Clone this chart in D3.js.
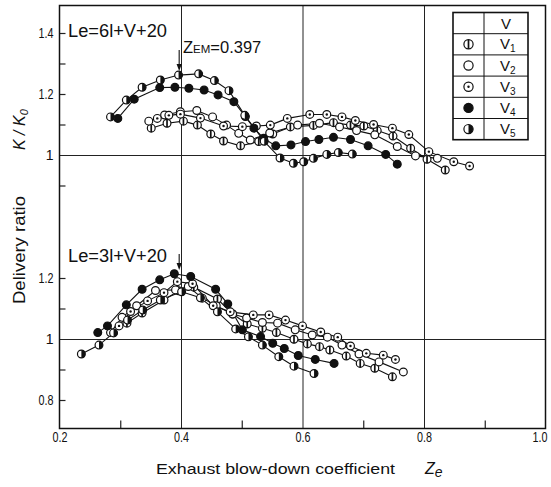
<!DOCTYPE html>
<html>
<head>
<meta charset="utf-8">
<script src="https://cdn.jsdelivr.net/npm/d3@7"></script>
<style>
  html, body { margin: 0; padding: 0; background: #fff; }
  svg { display: block; }
  text { font-family: "Liberation Sans", Arial, sans-serif; fill: #111; }
</style>
</head>
<body>
<svg id="chart" width="551" height="487"></svg>
<script>
// ---- data -------------------------------------------------------------
const seriesNames = ["V1", "V2", "V3", "V4", "V5"];

const xTickValues = [0.2, 0.4, 0.6, 0.8, 1.0];
const xTickLabels = ["0.2", "0.4", "0.6", "0.8", "1.0"];
const upperTickValues = [1.4, 1.2, 1.0];
const upperTickLabels = ["1.4", "1.2", "1"];
const lowerTickValues = [1.2, 1.0, 0.8];
const lowerTickLabels = ["1.2", "1", "0.8"];

const zemValue = 0.397;

// Le = 6l + V + 20   [Ze, K/K0]
const upperV1 = [[0.351,1.088],[0.377,1.104],[0.404,1.111],[0.427,1.098],[0.449,1.069],[0.470,1.046],[0.498,1.030],[0.528,1.044],[0.551,1.069],[0.580,1.092],[0.618,1.097],[0.651,1.106],[0.679,1.098],[0.701,1.095],[0.723,1.080],[0.749,1.062],[0.778,1.022],[0.805,0.986],[0.835,0.951]];
const upperV2 = [[0.347,1.111],[0.373,1.131],[0.399,1.142],[0.426,1.146],[0.452,1.125],[0.475,1.098],[0.495,1.071],[0.514,1.049],[0.546,1.072],[0.592,1.098],[0.628,1.104],[0.661,1.092],[0.689,1.080],[0.719,1.066],[0.756,1.028],[0.786,0.997],[0.822,0.989]];
const upperV3 = [[0.361,1.120],[0.380,1.130],[0.399,1.134],[0.432,1.121],[0.470,1.095],[0.501,1.093],[0.524,1.095],[0.547,1.098],[0.575,1.120],[0.612,1.133],[0.640,1.133],[0.665,1.125],[0.687,1.113],[0.717,1.100],[0.748,1.088],[0.775,1.067],[0.808,1.011],[0.849,0.978],[0.875,0.964]];
const upperV4 = [[0.296,1.120],[0.323,1.183],[0.365,1.221],[0.390,1.222],[0.413,1.219],[0.438,1.213],[0.461,1.197],[0.487,1.175],[0.506,1.126],[0.520,1.088],[0.536,1.055],[0.556,1.030],[0.581,1.033],[0.605,1.044],[0.627,1.051],[0.651,1.058],[0.679,1.051],[0.708,1.030],[0.737,1.002],[0.756,0.970]];
const upperV5 = [[0.284,1.125],[0.310,1.180],[0.336,1.222],[0.366,1.246],[0.396,1.262],[0.429,1.266],[0.455,1.244],[0.479,1.211],[0.505,1.130],[0.537,1.045],[0.563,0.990],[0.585,0.973],[0.602,0.978],[0.618,0.989],[0.640,1.002],[0.659,1.008],[0.682,1.003]];

// Le = 3l + V + 20   [Ze, K/K0]
const lowerV1 = [[0.311,1.052],[0.336,1.085],[0.372,1.128],[0.396,1.158],[0.421,1.170],[0.460,1.131],[0.485,1.082],[0.509,1.049],[0.534,1.035],[0.557,1.021],[0.586,0.999],[0.608,0.984],[0.628,0.975],[0.645,0.964],[0.672,0.944],[0.695,0.920],[0.719,0.904],[0.748,0.876]];
const lowerV2 = [[0.284,1.021],[0.303,1.071],[0.327,1.109],[0.358,1.159],[0.391,1.161],[0.412,1.172],[0.435,1.134],[0.458,1.109],[0.485,1.082],[0.508,1.069],[0.534,1.054],[0.559,1.052],[0.588,1.030],[0.616,1.013],[0.641,1.006],[0.665,0.980],[0.693,0.951],[0.726,0.925],[0.766,0.892]];
const lowerV3 = [[0.298,1.043],[0.317,1.090],[0.345,1.125],[0.372,1.152],[0.394,1.188],[0.419,1.181],[0.453,1.109],[0.481,1.089],[0.519,1.079],[0.545,1.079],[0.572,1.062],[0.600,1.043],[0.630,1.023],[0.658,1.006],[0.679,0.977],[0.705,0.953],[0.733,0.947],[0.753,0.933]];
const lowerV4 = [[0.263,1.021],[0.279,1.043],[0.310,1.112],[0.336,1.163],[0.365,1.194],[0.389,1.214],[0.416,1.205],[0.457,1.163],[0.477,1.115],[0.501,1.030],[0.531,1.008],[0.551,0.986],[0.570,0.969],[0.593,0.946],[0.621,0.933],[0.652,0.920]];
const lowerV5 = [[0.236,0.951],[0.265,0.980],[0.289,1.020],[0.312,1.062],[0.337,1.095],[0.366,1.128],[0.401,1.155],[0.432,1.135],[0.460,1.089],[0.490,1.033],[0.511,1.007],[0.534,0.980],[0.561,0.942],[0.586,0.911],[0.619,0.887]];

// ---- layout -----------------------------------------------------------
const W = 551;
const frame = { left: 59.5, right: 545.5, top: 5.5, bottom: 428.5 };
const markerStyles = ["bar", "open", "dot", "filled", "half"];

const svg = d3.select("#chart");
const x = d3.scaleLinear().domain([0.2, 1.0]).range([frame.left, frame.right]);
const yUpper = d3.scaleLinear().domain([1.0, 1.4]).range([155, 33]);
const yLower = d3.scaleLinear().domain([0.8, 1.2]).range([400, 278]);

const panels = [
  { y: yUpper, series: [upperV1, upperV2, upperV3, upperV4, upperV5],
    ticks: upperTickValues, labels: upperTickLabels, minor: [1.4, 1.3, 1.2, 1.1, 0.9] },
  { y: yLower, series: [lowerV1, lowerV2, lowerV3, lowerV4, lowerV5],
    ticks: lowerTickValues, labels: lowerTickLabels, minor: [1.2, 1.1, 0.9, 0.8] }
];

// ---- grid & frame -----------------------------------------------------
const plotH = frame.bottom - frame.top;
const plotW = frame.right - frame.left;

svg.append("g")
  .attr("transform", `translate(0,${frame.bottom})`)
  .call(d3.axisBottom(x).tickValues([0.4, 0.6, 0.8]).tickSize(-plotH).tickFormat(""))
  .call(g => g.select(".domain").remove())
  .call(g => g.selectAll("line").attr("stroke", "#222").attr("stroke-width", 1));

svg.append("g")
  .attr("transform", `translate(0,${frame.bottom})`)
  .call(d3.axisBottom(x).tickValues([0.3, 0.5, 0.7, 0.9]).tickSize(-8).tickFormat(""))
  .call(g => g.select(".domain").remove())
  .call(g => g.selectAll("line").attr("stroke", "#222").attr("stroke-width", 1.2));

svg.append("g")
  .attr("transform", `translate(0,${frame.bottom})`)
  .call(d3.axisBottom(x).tickValues(xTickValues).tickSize(0).tickPadding(4)
        .tickFormat((d, i) => xTickLabels[i]))
  .call(g => g.select(".domain").remove())
  .call(g => g.selectAll("text")
    .style("font-size", "14px")
    .attr("textLength", 15).attr("lengthAdjust", "spacingAndGlyphs")
    // the last label sits on the right border; keep it inside the canvas
    .filter(d => x(d) + 8 > W)
    .attr("text-anchor", "end").attr("x", W - 4 - x(1.0)));

panels.forEach(p => {
  svg.append("g")
    .attr("transform", `translate(${frame.left},0)`)
    .call(d3.axisLeft(p.y).tickValues([1.0]).tickSize(-plotW).tickFormat(""))
    .call(g => g.select(".domain").remove())
    .call(g => g.selectAll("line").attr("stroke", "#222").attr("stroke-width", 1));

  svg.append("g")
    .attr("transform", `translate(${frame.left},0)`)
    .call(d3.axisLeft(p.y).tickValues(p.minor).tickSize(-6).tickFormat(""))
    .call(g => g.select(".domain").remove())
    .call(g => g.selectAll("line").attr("stroke", "#222").attr("stroke-width", 1.2));

  svg.append("g")
    .attr("transform", `translate(${frame.left},0)`)
    .call(d3.axisLeft(p.y).tickValues(p.ticks).tickSize(0).tickPadding(6)
          .tickFormat((d, i) => p.labels[i]))
    .call(g => g.select(".domain").remove())
    .call(g => g.selectAll("text")
      .style("font-size", "14px")
      .each(function () {
        const t = d3.select(this);
        if (t.text().length > 1) t.attr("textLength", 15).attr("lengthAdjust", "spacingAndGlyphs");
      }));
});

svg.append("rect")
  .attr("x", frame.left).attr("y", frame.top)
  .attr("width", plotW).attr("height", plotH)
  .attr("fill", "none").attr("stroke", "#111").attr("stroke-width", 1.5);

// ---- markers ----------------------------------------------------------
function drawMarker(g, style, cx, cy, r) {
  const fill = style === "filled" ? "#111" : "#fff";
  g.append("circle").attr("cx", cx).attr("cy", cy).attr("r", r)
    .attr("fill", fill).attr("stroke", "#111").attr("stroke-width", 1.2);
  if (style === "bar") {
    g.append("line").attr("x1", cx).attr("x2", cx)
      .attr("y1", cy - r).attr("y2", cy + r)
      .attr("stroke", "#111").attr("stroke-width", 1.7);
  } else if (style === "dot") {
    g.append("circle").attr("cx", cx).attr("cy", cy).attr("r", 1.2).attr("fill", "#111");
  } else if (style === "half") {
    g.append("path")
      .attr("d", `M${cx},${cy - r} A${r},${r} 0 0 1 ${cx},${cy + r} Z`)
      .attr("fill", "#111");
  }
}

// ---- curves -----------------------------------------------------------
panels.forEach(p => {
  const line = d3.line().x(d => x(d[0])).y(d => p.y(d[1]));
  const g = svg.append("g");
  p.series.forEach(s => {
    g.append("path").attr("d", line(s))
      .attr("fill", "none").attr("stroke", "#111").attr("stroke-width", 1.1);
  });
  p.series.forEach((s, i) => {
    s.forEach(d => drawMarker(g, markerStyles[i], x(d[0]), p.y(d[1]), 3.9));
  });
});

// ---- annotations ------------------------------------------------------
svg.append("text").attr("x", 68).attr("y", 37)
  .style("font-size", "18px")
  .attr("textLength", 99).attr("lengthAdjust", "spacingAndGlyphs")
  .text("Le=6l+V+20");

svg.append("text").attr("x", 68).attr("y", 262)
  .style("font-size", "18px")
  .attr("textLength", 99).attr("lengthAdjust", "spacingAndGlyphs")
  .text("Le=3l+V+20");

const zem = svg.append("text").attr("x", 183).attr("y", 53).style("font-size", "16.5px");
zem.append("tspan").text("Z");
zem.append("tspan").style("font-size", "11.5px").text("EM");
zem.append("tspan").text("=0.397");

function arrow(xPos, y0, y1) {
  svg.append("line").attr("x1", xPos).attr("x2", xPos).attr("y1", y0).attr("y2", y1 - 5)
    .attr("stroke", "#111").attr("stroke-width", 1.1);
  svg.append("path")
    .attr("d", `M${xPos - 2.6},${y1 - 7} L${xPos + 2.6},${y1 - 7} L${xPos},${y1} Z`)
    .attr("fill", "#111");
}
arrow(x(zemValue), 50, 71);
arrow(x(zemValue), 254, 270);

// ---- axis titles ------------------------------------------------------
const xt = svg.append("text").attr("y", 474).style("font-size", "15.5px");
xt.append("tspan").attr("x", 156)
  .attr("textLength", 239).attr("lengthAdjust", "spacingAndGlyphs")
  .text("Exhaust blow-down coefficient");
const ze = svg.append("text").attr("x", 425).attr("y", 474)
  .style("font-size", "16px").style("font-style", "italic");
ze.append("tspan").text("Z");
ze.append("tspan").attr("dy", 3).style("font-size", "14px").text("e");

svg.append("text")
  .attr("transform", "translate(25,304) rotate(-90)")
  .style("font-size", "16px")
  .attr("textLength", 108).attr("lengthAdjust", "spacingAndGlyphs")
  .text("Delivery ratio");
const kk = svg.append("text")
  .attr("transform", "translate(25,150) rotate(-90)")
  .style("font-size", "16px").style("font-style", "italic");
kk.append("tspan").text("K / K");
kk.append("tspan").attr("dy", 3).style("font-size", "11px").text("0");

// ---- legend -----------------------------------------------------------
const leg = { x: 453, y: 12.5, w: 75, split: 484, rowH: 21.2 };
const lg = svg.append("g");
const legH = leg.rowH * (seriesNames.length + 1);
for (let i = 1; i <= seriesNames.length; i++) {
  lg.append("line").attr("x1", leg.x).attr("x2", leg.x + leg.w)
    .attr("y1", leg.y + i * leg.rowH).attr("y2", leg.y + i * leg.rowH)
    .attr("stroke", "#111").attr("stroke-width", 1);
}
lg.append("line").attr("x1", leg.split).attr("x2", leg.split)
  .attr("y1", leg.y).attr("y2", leg.y + legH)
  .attr("stroke", "#111").attr("stroke-width", 1);
lg.append("rect").attr("x", leg.x).attr("y", leg.y).attr("width", leg.w).attr("height", legH)
  .attr("fill", "none").attr("stroke", "#111").attr("stroke-width", 1.6);

const textCx = (leg.split + leg.x + leg.w) / 2;
lg.append("text").attr("x", textCx).attr("y", leg.y + 16)
  .attr("text-anchor", "middle").style("font-size", "15px").text("V");
seriesNames.forEach((name, i) => {
  const cy = leg.y + (i + 1.5) * leg.rowH;
  drawMarker(lg, markerStyles[i], (leg.x + leg.split) / 2, cy, 4.6);
  const t = lg.append("text").attr("x", textCx - 6).attr("y", cy + 5).style("font-size", "15px");
  t.append("tspan").text(name[0]);
  t.append("tspan").attr("dy", 3).style("font-size", "10px").text(name.slice(1));
});
</script>
</body>
</html>
